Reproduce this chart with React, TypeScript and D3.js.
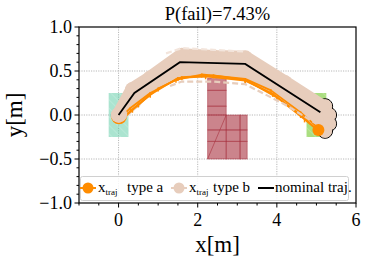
import React from 'react';
import { scaleLinear, line, range } from 'd3';

type Pt = [number, number];

// axis ticks
const xTicks = [0, 2, 4, 6];
const xMinor = range(-1, 6.01, 0.5);
const yTicks = [-1, -0.5, 0, 0.5, 1];
const yMinor = range(-1, 1.001, 0.1);
const gridX = [0, 2, 4];
const gridY = [-0.5, 0, 0.5];

// regions
const startRegion = [-0.25, 0.25, -0.25, 0.25];
const goalRegion = [4.75, 5.25, -0.25, 0.25];
// obstacle cells [x0, x1, y0, y1]
const obstacleCells = [
  [2.25, 2.72, 0.28, 0.42], [2.25, 2.72, 0.1, 0.28], [2.25, 2.72, 0.0, 0.1],
  [2.25, 2.72, -0.17, 0.0], [2.72, 3.07, -0.17, 0.0], [3.07, 3.25, -0.17, 0.0],
  [2.25, 2.72, -0.3, -0.17], [2.72, 3.07, -0.3, -0.17], [3.07, 3.25, -0.3, -0.17],
  [2.25, 2.72, -0.5, -0.3], [2.72, 3.07, -0.5, -0.3], [3.07, 3.25, -0.5, -0.3],
];

// nominal trajectory
const nominalTraj: Pt[] = [[0, 0], [0.4, 0.25], [1.55, 0.6], [3.2, 0.58], [5.1, 0.03]];

// type b samples
const typeB1: Pt[] = [[0, 0], [0.35, 0.29], [0.8, 0.42], [1.6, 0.68], [2.4, 0.66], [3.2, 0.65], [4.2, 0.37], [5.2, 0.08]];
const typeB2: Pt[] = [[0, 0], [0.4, 0.16], [0.8, 0.34], [1.5, 0.5], [2.4, 0.5], [3.2, 0.47], [4.2, 0.25], [5.2, -0.12]];
const typeB3: Pt[] = [[0, 0], [0.4, 0.23], [0.8, 0.38], [1.6, 0.6], [2.4, 0.6], [3.2, 0.57], [4.2, 0.3], [5.2, 0.0]];
const typeBDashLow: Pt[] = [[1.3, 0.33], [1.6, 0.38], [2.4, 0.38], [3.2, 0.35], [4.2, 0.12], [5.0, -0.1]];
const typeBDashHigh: Pt[] = [[1.2, 0.7], [1.6, 0.76], [2.4, 0.74], [3.2, 0.72]];
const typeBEnds: Pt[] = [[5.22, 0.1], [5.32, 0.0], [5.32, -0.1], [5.22, -0.18]];

// type a samples
const typeA1: Pt[] = [[0.05, -0.03], [0.3, 0.08], [0.8, 0.25], [1.45, 0.4], [2.1, 0.46], [3.2, 0.41], [3.85, 0.28], [4.6, 0.03], [5.05, -0.15]];
const typeA2: Pt[] = [[0.1, -0.05], [0.35, 0.06], [0.8, 0.23], [1.5, 0.42], [2.2, 0.44], [3.2, 0.39], [3.9, 0.24], [4.6, 0.0], [5.05, -0.18]];
const typeA3: Pt[] = [[0.08, -0.04], [0.5, 0.12], [1.0, 0.3], [1.6, 0.43], [2.4, 0.45], [3.2, 0.4], [4.0, 0.2], [4.7, -0.05], [5.1, -0.2]];
const typeAEnd: Pt = [5.05, -0.17];

const W = 365, H = 262;
const M = { left: 79, right: 356, top: 27, bottom: 203 };
const ORANGE = '#ff8c00';
const BEIGE = '#e7cdbc';
const SERIF = '"Liberation Serif", "Times New Roman", serif';

export default function App() {
  const x = scaleLinear().domain([-1, 6]).range([M.left, M.right]);
  const y = scaleLinear().domain([-1, 1]).range([M.bottom, M.top]);
  const path = line<Pt>().x(d => x(d[0])).y(d => y(d[1]));
  const fmt = (v: number) => (v < 0 ? '\u2212' : '') + Math.abs(v).toFixed(1);

  return (
    <svg width={W} height={H} style={{ position: 'absolute', left: 0, top: 0, background: '#fff' }}>
      <defs>
        <pattern id="hatch" width="6" height="6" patternUnits="userSpaceOnUse" patternTransform="rotate(-45)">
          <line x1="0" y1="0" x2="0" y2="6" stroke="#ffffff" strokeOpacity="0.35" strokeWidth="1" />
        </pattern>
        <clipPath id="plot">
          <rect x={M.left} y={M.top} width={M.right - M.left} height={M.bottom - M.top} />
        </clipPath>
      </defs>

      {/* grid */}
      {gridX.map(v => (
        <line key={'gx' + v} x1={x(v)} x2={x(v)} y1={M.top} y2={M.bottom} stroke="#b8b8b8" strokeWidth={1} strokeDasharray="1.2,1.2" />
      ))}
      {gridY.map(v => (
        <line key={'gy' + v} x1={M.left} x2={M.right} y1={y(v)} y2={y(v)} stroke="#b8b8b8" strokeWidth={1} strokeDasharray="1.2,1.2" />
      ))}

      <g clipPath="url(#plot)">
        {/* regions */}
        {[startRegion, goalRegion].map((r, i) => (
          <g key={'reg' + i}>
            <rect x={x(r[0])} y={y(r[3])} width={x(r[1]) - x(r[0])} height={y(r[2]) - y(r[3])}
              fill={i === 0 ? '#66cdaa' : '#7ccd3c'} fillOpacity={i === 0 ? 0.55 : 0.65} />
            <rect x={x(r[0])} y={y(r[3])} width={x(r[1]) - x(r[0])} height={y(r[2]) - y(r[3])} fill="url(#hatch)" />
          </g>
        ))}
        {obstacleCells.map((c, i) => (
          <rect key={'ob' + i} x={x(c[0])} y={y(c[3])} width={x(c[1]) - x(c[0])} height={y(c[2]) - y(c[3])}
            fill="#a8323f" fillOpacity={0.6} stroke="#a8323f" strokeOpacity={0.5} strokeWidth={1} />
        ))}
        <line x1={x(2.25)} y1={y(-0.5)} x2={x(2.72)} y2={y(0)} stroke="#a8323f" strokeOpacity={0.6} strokeWidth={1} />

        {/* type b end cluster outline */}
        {typeBEnds.map((p, i) => (
          <circle key={'be' + i} cx={x(p[0])} cy={y(p[1])} r={7.5} fill={BEIGE} stroke="#000" strokeWidth={1} />
        ))}

        {/* type a below start blob */}
        <circle cx={x(0.01)} cy={y(-0.015)} r={8} fill={ORANGE} />

        {/* type b band */}
        {[typeB1, typeB2, typeB3].map((t, i) => (
          <g key={'b' + i}>
            <path d={path(t) ?? ''} fill="none" stroke={BEIGE} strokeWidth={14} strokeLinejoin="round" strokeLinecap="round" />
            {t.map((p, j) => (
              <circle key={j} cx={x(p[0])} cy={y(p[1])} r={7.5} fill={BEIGE} />
            ))}
          </g>
        ))}
        {typeBEnds.map((p, i) => (
          <circle key={'bf' + i} cx={x(p[0])} cy={y(p[1])} r={6.8} fill={BEIGE} />
        ))}
        <path d={path(typeBDashHigh) ?? ''} fill="none" stroke="#f3e5dc" strokeWidth={2.2} strokeDasharray="6,3" />

        {/* type a samples */}
        {[typeA1, typeA2, typeA3].map((t, i) => (
          <g key={'a' + i}>
            <path d={path(t) ?? ''} fill="none" stroke={ORANGE} strokeWidth={1.8} strokeLinejoin="round" />
            {t.map((p, j) => (
              <line key={j} x1={x(p[0])} x2={x(p[0])} y1={y(p[1]) - 1} y2={y(p[1]) + 3} stroke={ORANGE} strokeWidth={1.5} />
            ))}
          </g>
        ))}
        <path d={path(typeBDashLow) ?? ''} fill="none" stroke={BEIGE} strokeWidth={2.2} strokeDasharray="6,3" />
        <circle cx={x(typeAEnd[0])} cy={y(typeAEnd[1])} r={6} fill={ORANGE} />
        <circle cx={x(0.02)} cy={y(0.005)} r={7.8} fill={BEIGE} />

        {/* nominal */}
        <path d={path(nominalTraj) ?? ''} fill="none" stroke="#000" strokeWidth={1.8} />
      </g>

      {/* spines */}
      <rect x={M.left} y={M.top} width={M.right - M.left} height={M.bottom - M.top} fill="none" stroke="#000" strokeWidth={1.2} />

      {/* ticks */}
      {xMinor.map(v => (
        <line key={'xm' + v} x1={x(v)} x2={x(v)} y1={M.bottom} y2={M.bottom + (xTicks.includes(v) ? 4.5 : 2.5)} stroke="#000" strokeWidth={1} />
      ))}
      {yMinor.map(v => {
        const major = yTicks.some(t => Math.abs(t - v) < 1e-6);
        return <line key={'ym' + v} y1={y(v)} y2={y(v)} x1={M.left} x2={M.left - (major ? 4.5 : 2.5)} stroke="#000" strokeWidth={1} />;
      })}
      {xTicks.map(v => (
        <text key={'xl' + v} x={x(v)} y={M.bottom + 23} textAnchor="middle" fontFamily={SERIF} fontSize={18}>{v}</text>
      ))}
      {yTicks.map(v => (
        <text key={'yl' + v} x={M.left - 7} y={y(v) + 6} textAnchor="end" fontFamily={SERIF} fontSize={18}>{fmt(v)}</text>
      ))}

      {/* labels */}
      <text x={(M.left + M.right) / 2} y={20} textAnchor="middle" fontFamily={SERIF} fontSize={18.5}>P(fail)=7.43%</text>
      <text x={(M.left + M.right) / 2} y={252} textAnchor="middle" fontFamily={SERIF} fontSize={23}>x[m]</text>
      <text transform={`translate(22,${y(0)}) rotate(-90)`} textAnchor="middle" fontFamily={SERIF} fontSize={23}>y[m]</text>

      {/* legend */}
      <g fontFamily={SERIF} fontSize={15}>
        <rect x={80.5} y={176.5} width={268} height={24} rx={2} fill="#fff" fillOpacity={0.85} stroke="#d0d0d0" strokeWidth={1} />
        <line x1={80} x2={96} y1={188} y2={188} stroke={ORANGE} strokeWidth={2} />
        <circle cx={88} cy={188} r={5.5} fill={ORANGE} />
        <text x={98} y={192}>x<tspan fontSize={9} dy={3}>traj</tspan><tspan x={127} dy={-3}>type a</tspan></text>
        <line x1={171} x2={187} y1={188} y2={188} stroke={BEIGE} strokeWidth={2} />
        <circle cx={179} cy={188} r={5.5} fill={BEIGE} />
        <text x={189} y={192}>x<tspan fontSize={9} dy={3}>traj</tspan><tspan x={213} dy={-3}>type b</tspan></text>
        <line x1={258} x2={274} y1={188} y2={188} stroke="#000" strokeWidth={2} />
        <text x={275} y={192}>nominal traj.</text>
      </g>
    </svg>
  );
}
